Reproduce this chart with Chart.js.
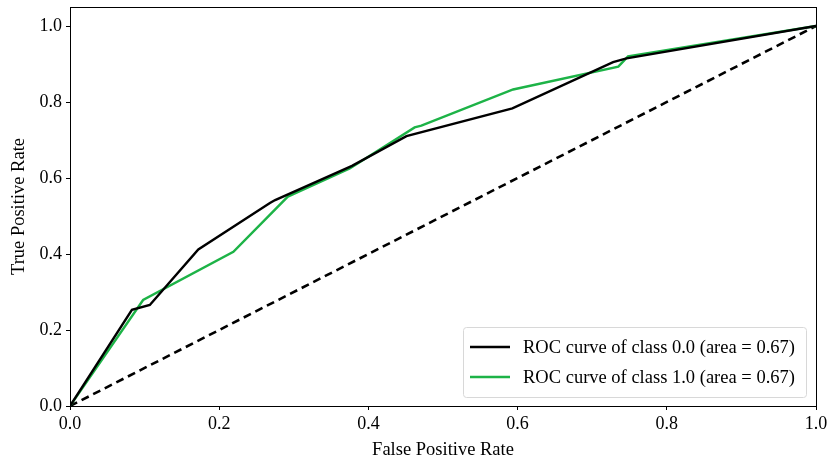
<!DOCTYPE html>
<html>
<head>
<meta charset="utf-8">
<script src="https://cdn.jsdelivr.net/npm/chart.js@4.4.1/dist/chart.umd.min.js"></script>
<style>
  html, body { margin: 0; padding: 0; background: #fff; }
  #wrap { width: 829px; height: 463px; }
</style>
</head>
<body>
<div id="wrap"><canvas id="roc"></canvas></div>
<script>
// ROC points
const fprClass0 = [0, 0.083, 0.107, 0.172, 0.268, 0.275, 0.378, 0.451, 0.593, 0.728, 0.746, 1];
const tprClass0 = [0, 0.253, 0.266, 0.412, 0.534, 0.542, 0.632, 0.710, 0.783, 0.905, 0.915, 1];
const fprClass1 = [0, 0.098, 0.219, 0.292, 0.375, 0.462, 0.471, 0.594, 0.735, 0.748, 1];
const tprClass1 = [0, 0.279, 0.406, 0.551, 0.625, 0.733, 0.738, 0.833, 0.893, 0.920, 1];
const chanceLine = [0, 1];
const seriesLabels = ['ROC curve of class 0.0 (area = 0.67)', 'ROC curve of class 1.0 (area = 0.67)'];
const xTicks = [0, 0.2, 0.4, 0.6, 0.8, 1.0];
const yTicks = [0, 0.2, 0.4, 0.6, 0.8, 1.0];

const toPoints = (xs, ys) => xs.map((x, i) => ({ x: x, y: ys[i] }));
const serif = '"Liberation Serif", "DejaVu Serif", serif';

// frame + legend box in lower right, matplotlib style
const framePlugin = {
  id: 'frame',
  afterDraw(chart) {
    const { ctx, chartArea: a } = chart;
    ctx.save();
    ctx.strokeStyle = '#000';
    ctx.lineWidth = 1;
    ctx.strokeRect(a.left + 0.5, a.top + 0.5, a.right - a.left, a.bottom - a.top);

    const items = chart.data.datasets.filter(d => d.label);
    const boxW = 343, boxH = 70;
    const bx = a.right - 10 - boxW, by = a.bottom - 9 - boxH;
    ctx.fillStyle = 'rgba(255,255,255,0.85)';
    ctx.strokeStyle = '#d8d8d8';
    ctx.beginPath();
    ctx.roundRect(bx + 0.5, by + 0.5, boxW, boxH, 3);
    ctx.fill();
    ctx.stroke();

    ctx.font = '18.5px ' + serif;
    ctx.textBaseline = 'middle';
    items.forEach((d, i) => {
      const yy = by + 20 + i * 30;
      ctx.strokeStyle = d.borderColor;
      ctx.lineWidth = 2.4;
      ctx.beginPath();
      ctx.moveTo(bx + 7, yy);
      ctx.lineTo(bx + 47, yy);
      ctx.stroke();
      ctx.fillStyle = '#000';
      ctx.fillText(d.label, bx + 60, yy + 1);
    });
    ctx.restore();
  }
};

new Chart(document.getElementById('roc'), {
  type: 'scatter',
  data: {
    datasets: [
      {
        label: seriesLabels[0],
        data: toPoints(fprClass0, tprClass0),
        showLine: true,
        borderColor: '#000000',
        borderWidth: 2.4,
        pointRadius: 0,
        tension: 0
      },
      {
        label: seriesLabels[1],
        data: toPoints(fprClass1, tprClass1),
        showLine: true,
        borderColor: '#1db347',
        borderWidth: 2.4,
        pointRadius: 0,
        tension: 0
      },
      {
        label: '',
        data: toPoints(chanceLine, chanceLine),
        showLine: true,
        borderColor: '#000000',
        borderWidth: 2.6,
        borderDash: [8, 5],
        pointRadius: 0
      }
    ]
  },
  options: {
    responsive: true,
    maintainAspectRatio: false,
    animation: false,
    layout: { padding: { top: 7, right: 13, left: 0, bottom: 0 } },
    plugins: {
      legend: { display: false },
      tooltip: { enabled: false }
    },
    scales: {
      x: {
        type: 'linear',
        min: 0,
        max: 1,
        afterBuildTicks: axis => { axis.ticks = xTicks.map(v => ({ value: v })); },
        afterFit: axis => { axis.height = 57; axis.paddingLeft = 0; axis.paddingRight = 0; },
        ticks: {
          color: '#000',
          font: { family: serif, size: 18, lineHeight: 1 },
          padding: 5,
          maxRotation: 0,
          callback: v => v.toFixed(1)
        },
        grid: { drawOnChartArea: false, drawTicks: true, tickLength: 4, color: '#000' },
        border: { display: false },
        title: {
          display: true,
          text: 'False Positive Rate',
          color: '#000',
          font: { family: serif, size: 18.5, lineHeight: 1 },
          padding: { top: 12 }
        }
      },
      y: {
        type: 'linear',
        min: 0,
        max: 1.05,
        afterBuildTicks: axis => { axis.ticks = yTicks.map(v => ({ value: v })); },
        afterFit: axis => { axis.width = 70; axis.paddingTop = 0; axis.paddingBottom = 0; },
        ticks: {
          color: '#000',
          font: { family: serif, size: 18, lineHeight: 1 },
          padding: 4,
          callback: v => v.toFixed(1)
        },
        grid: { drawOnChartArea: false, drawTicks: true, tickLength: 4, color: '#000' },
        border: { display: false },
        title: {
          display: true,
          text: 'True Positive Rate',
          color: '#000',
          font: { family: serif, size: 18.5, lineHeight: 1 },
          padding: { top: 10, bottom: 0 }
        }
      }
    }
  },
  plugins: [framePlugin]
});
</script>
</body>
</html>
